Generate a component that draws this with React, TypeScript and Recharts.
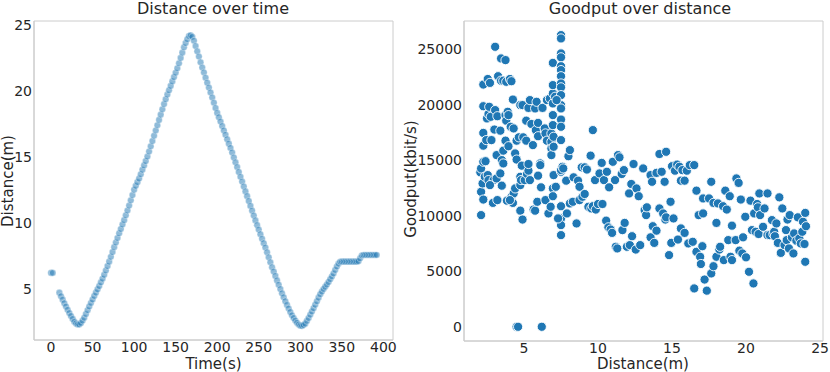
import React from 'react';
import { ScatterChart, Scatter, XAxis, YAxis, ReferenceArea } from 'recharts';

// ---- Left panel: Distance over time ----
const timeS = [
  0, 2,
  10, 12, 14, 16, 18, 20, 22, 24, 26, 28, 30, 32, 34, 36, 38, 40, 42, 44, 46, 48, 50, 52, 54, 56, 58, 60, 62, 64, 66, 68,
  70, 72, 74, 76, 78, 80, 82, 84, 86, 88, 90, 92, 94, 96, 98, 100, 102, 104, 106, 108, 110, 112, 114, 116, 118, 120,
  122, 124, 126, 128, 130, 132, 134, 136, 138, 140, 142, 144, 146, 148, 150, 152, 154, 156, 158, 160, 162, 164, 166,
  168, 170, 172, 174, 176, 178, 180, 182, 184, 186, 188, 190, 192, 194, 196, 198, 200, 202, 204, 206, 208, 210, 212,
  214, 216, 218, 220, 222, 224, 226, 228, 230, 232, 234, 236, 238, 240, 242, 244, 246, 248, 250, 252, 254, 256, 258,
  260, 262, 264, 266, 268, 270, 272, 274, 276, 278, 280, 282, 284, 286, 288, 290, 292, 294, 296, 298, 300, 302, 304,
  306, 308, 310, 312, 314, 316, 318, 320, 322, 324, 326, 328, 330, 332, 334, 336, 338, 340, 342, 344, 346, 348, 350,
  352, 354, 356, 358, 360, 362, 364, 366, 368, 370, 372, 374, 376, 378, 380, 382, 384, 386, 388, 390, 392,
];
const distanceM = [
  6.2, 6.2,
  4.7, 4.43, 4.17, 3.9, 3.65, 3.4, 3.15, 2.93, 2.71, 2.5, 2.37, 2.29, 2.28, 2.4, 2.58, 2.8, 3.08, 3.37, 3.65, 3.92,
  4.18, 4.45, 4.7, 4.95, 5.2, 5.48, 5.76, 6.05, 6.38, 6.72,
  7.05, 7.42, 7.78, 8.15, 8.5, 8.85, 9.2, 9.53, 9.87, 10.2, 10.57, 10.93, 11.3, 11.7, 12.1, 12.5, 12.8, 13.08, 13.35,
  13.68, 14.02, 14.35, 14.68, 15.02, 15.4, 15.8,
  16.2, 16.6, 17.0, 17.4, 17.8, 18.2, 18.6, 19.0, 19.37, 19.72, 20.05, 20.38, 20.72, 21.05, 21.38, 21.72, 22.1, 22.5,
  22.9, 23.3, 23.63, 23.92, 24.15,
  24.22, 24.1, 23.8, 23.4, 23.0, 22.6, 22.17, 21.77, 21.4, 21.0, 20.62, 20.25, 19.88, 19.5, 19.1, 18.7, 18.33, 18.0,
  17.67, 17.33, 17.0, 16.67, 16.33,
  16.0, 15.67, 15.33, 14.95, 14.58, 14.22, 13.85, 13.48, 13.12, 12.75, 12.38, 12.02, 11.65, 11.28, 10.92, 10.55,
  10.18, 9.82, 9.48, 9.13, 8.78, 8.45, 8.12,
  7.76, 7.38, 7.0, 6.63, 6.3, 5.97, 5.63, 5.3, 4.97, 4.65, 4.35, 4.05, 3.77, 3.5, 3.23, 2.98, 2.78, 2.59, 2.42, 2.28,
  2.2, 2.18, 2.25,
  2.35, 2.56, 2.78, 3.03, 3.27, 3.52, 3.78, 4.05, 4.32, 4.58, 4.78, 4.98, 5.14, 5.31, 5.5, 5.72, 5.93, 6.15, 6.42,
  6.68, 6.9, 7.04, 7.05,
  7.05, 7.05, 7.05, 7.05, 7.05, 7.05, 7.05, 7.05, 7.05, 7.08, 7.3, 7.52, 7.56, 7.56, 7.56, 7.56, 7.56, 7.56, 7.56,
  7.56, 7.56,
];
const timeTicks = [0, 50, 100, 150, 200, 250, 300, 350, 400];
const distanceTicks = [5, 10, 15, 20, 25];

// ---- Right panel: Goodput over distance ----
const goodputDistanceM = [
  2.1, 2.1, 2.05, 2.1, 2.2, 2.25, 2.25, 2.25, 2.25, 2.25, 2.25, 2.35, 2.4, 2.45, 2.5, 2.6, 2.55, 2.7, 2.55, 2.6,
  2.65, 2.75, 2.8, 2.95, 3.0, 3.05, 2.7, 2.9,
  3.05, 3.15, 3.15, 3.2, 3.2, 3.25, 3.4, 3.4, 3.5, 3.5, 3.45, 3.45, 3.6, 3.75, 3.8, 3.75, 3.8, 3.75, 3.6, 3.6,
  3.9, 3.95, 3.85, 3.95,
  4.05, 4.15, 4.1, 4.15, 4.25, 4.3, 4.05, 4.25, 4.3, 4.4, 4.5, 4.4, 4.5, 4.65, 4.5, 4.6, 4.75, 4.9, 4.75, 4.75,
  4.75, 4.85, 4.8, 4.95, 4.9,
  5.15, 5.05, 5.2, 5.3, 5.4, 5.3, 5.15, 5.3, 5.4, 5.5, 5.6, 5.65, 5.75, 5.75, 5.8, 5.85, 5.9, 5.95, 5.95, 5.95,
  6.1, 6.1, 6.15, 6.2, 6.25,
  6.4, 6.45, 6.55, 6.55, 6.45, 6.65, 6.75, 6.8, 6.85, 6.85, 6.85, 6.85, 6.95, 6.95, 6.95, 6.95, 6.95, 6.95, 6.95,
  6.95, 7.0, 7.0, 7.0, 7.1, 7.15,
  7.5, 7.5, 7.5, 7.5, 7.5, 7.5, 7.5, 7.5, 7.5, 7.5, 7.5, 7.5, 7.5, 7.5, 7.5, 7.5, 7.5, 7.5, 7.5, 7.5, 7.5,
  7.2, 7.3, 7.6, 7.65,
  7.85, 7.9, 8.0, 8.1, 8.1, 8.3, 8.35, 8.55, 8.65, 8.75, 8.75, 8.9, 8.95, 9.1, 9.1, 9.25, 9.35, 9.5, 9.55, 9.65,
  9.65, 9.8, 9.85,
  10.0, 10.1, 10.25, 10.3, 10.4, 10.55, 10.6, 10.7, 10.75, 10.85, 10.95, 11.0, 11.15, 11.2, 11.3, 11.35, 11.45,
  11.6, 11.65, 11.75, 11.8, 11.95, 12.1, 12.15, 12.25, 12.3, 12.4, 12.55, 12.6, 12.75, 12.85,
  13.05, 13.15, 13.25, 13.3, 13.55, 13.55, 13.65, 13.7, 13.8, 13.95, 13.95, 14.15, 14.15, 14.3, 14.4, 14.5, 14.55,
  14.6, 14.6, 14.8, 14.9, 14.95,
  15.0, 15.1, 15.2, 15.35, 15.4, 15.5, 15.6, 15.6, 15.7, 15.85, 15.85, 16.0, 16.1, 16.2, 16.4, 16.5, 16.5, 16.65,
  16.65, 16.8, 16.9, 16.95, 17.05, 17.1, 17.1, 17.2, 17.35, 17.5,
  17.65, 17.65, 17.8, 17.8, 18.0, 18.0, 18.1, 18.2, 18.25, 18.45, 18.5, 18.6, 18.7, 18.8, 18.9, 18.95, 19.05,
  19.05, 19.3, 19.35, 19.5, 19.55, 19.65, 19.75, 19.8, 19.95, 20.0,
  20.2, 20.3, 20.4, 20.5, 20.55, 20.65, 20.75, 20.8, 20.85, 20.9, 20.95, 21.15, 21.25, 21.45, 21.45, 21.6, 21.75,
  21.85, 21.9, 21.95, 22.05, 22.15, 22.25, 22.35, 22.45,
  22.6, 22.7, 22.75, 22.8, 22.9, 22.95, 23.1, 23.2, 23.25, 23.4, 23.5, 23.6, 23.7, 23.8, 23.85, 23.95, 24.0, 24.0,
  24.05,
];
const goodputKbit = [
  10050, 12150, 13900, 14250, 12900, 11450, 14850, 16300, 17450, 19850, 21800, 13500, 14900, 16800, 18750, 19150,
  22300, 21950, 13650, 13200, 19800, 18900, 16800, 13200, 17750, 19500, 12750, 11150,
  25200, 13350, 15450, 18950, 11400, 22550, 17650, 13800, 15000, 12700, 22150, 24150, 22150, 24000, 22050, 19050,
  18550, 16750, 15850, 14700, 19350, 16250, 11350, 19050,
  22300, 22100, 18000, 11700, 11150, 12000, 11400, 20450, 17850, 15600, 15050, 12450, 16750, 17050, 0, 0, 10450,
  9650, 19950, 13500, 12750, 14500, 13200, 17050, 19950,
  16750, 13200, 13750, 14050, 13200, 14650, 18550, 19700, 20400, 18250, 16350, 10550, 10450, 19650, 17700, 20250,
  11250, 13600, 17150, 18350, 14700, 14550, 12550, 0, 19700,
  17850, 17400, 16750, 20400, 11400, 10200, 20550, 10800, 17400, 16650, 16050, 15450, 18150, 19050, 20100, 21000,
  21750, 23750, 12450, 11750, 17100, 16200, 13650, 20700, 12600,
  26250, 25950, 24600, 24250, 23450, 23100, 22550, 21900, 21550, 20850, 19950, 19650, 18650, 18000, 16800, 13950,
  14100, 10850, 9750, 9150, 8250,
  20400, 9750, 14400, 14250,
  13150, 10200, 15350, 15900, 11100, 11250, 13450, 9300, 13150, 12600, 11400, 14350, 11700, 11950, 14350, 14150,
  10800, 15400, 10650, 17700, 10850, 13200, 10550,
  11050, 13800, 14750, 11050, 13200, 9550, 13950, 8950, 12550, 8750, 8450, 14850, 13200, 7200, 7050, 15450, 15250,
  13750, 8700, 14100, 9350, 7200, 12000, 7350, 12850, 8150, 14650, 6950, 12450, 11750, 7350,
  14250, 10500, 10050, 10750, 13650, 8050, 13050, 9050, 7550, 13850, 8650, 10650, 15550, 13950, 10200, 13050, 9650,
  9850, 15750, 6450, 11250, 7550,
  14450, 9750, 14050, 14600, 7850, 14400, 13150, 8850, 14100, 13150, 8450, 14050, 7500, 14550, 7650, 14550, 3450,
  12250, 6750, 10050, 6300, 5650, 7250, 11550, 10200, 4250, 3250, 11550,
  13050, 4800, 11150, 5450, 9350, 6300, 11100, 6950, 7200, 10850, 6000, 12250, 10550, 7800, 11750, 6300, 6000, 9100,
  7800, 13350, 12950, 6850, 11450, 6600, 8050, 9900, 6250,
  4950, 11350, 8700, 3900, 10200, 8550, 11050, 10750, 8350, 12000, 10050, 9000, 10650, 12000, 8250, 8250, 9600, 8350,
  8550, 8150, 9300, 7550, 11650, 6650, 10650,
  7350, 8700, 7800, 9650, 7050, 10050, 8050, 6600, 8400, 7750, 9850, 7950, 7500, 8550, 9450, 7450, 10250, 5850, 9050,
];
const goodputDistanceTicks = [5, 10, 15, 20, 25];
const goodputTicks = [0, 5000, 10000, 15000, 20000, 25000];

const FONT = 'DejaVu Sans, sans-serif';
const TEXT = '#262626';
const SPINE = '#cccccc';
const BLUE = '#1f77b4';

const leftData = timeS.map((t, i) => ({ t, d: distanceM[i] }));
const rightData = goodputDistanceM.map((x, i) => ({ x, g: goodputKbit[i] }));

const tickStyle = { fill: TEXT, fontSize: 14, fontFamily: FONT };

const smallDot = (p: any) => (
  <circle cx={p.cx} cy={p.cy} r={3.3} fill={BLUE} fillOpacity={0.5} stroke="#ffffff" strokeOpacity={0.5} strokeWidth={0.7} />
);
const bigDot = (p: any) => (
  <circle cx={p.cx} cy={p.cy} r={4.6} fill={BLUE} stroke="#ffffff" strokeWidth={0.9} />
);

const vLabel = (text: string, x: number, y: number) => () => (
  <text x={x} y={y} transform={`rotate(-90 ${x} ${y})`} textAnchor="middle" dominantBaseline="central"
    fontSize={15} fill={TEXT} fontFamily={FONT}>{text}</text>
);
const hLabel = (text: string, x: number, y: number) => () => (
  <text x={x} y={y} textAnchor="middle" dominantBaseline="central" fontSize={15} fill={TEXT} fontFamily={FONT}>{text}</text>
);

const LX: [number, number] = [-20.5, 411.6];
const LY: [number, number] = [1.11, 25.3];
const RX: [number, number] = [0.946, 25.2];
const RY: [number, number] = [-1280, 27520];

export default function App() {
  return (
    <div style={{ position: 'absolute', left: 0, top: 0, width: 830, height: 372, background: '#fff', fontFamily: FONT }}>
      <div style={{ position: 'absolute', left: 0, top: 0 }}>
        <ScatterChart width={400} height={372} margin={{ top: 21, right: 7, bottom: 2, left: 4 }}>
          <XAxis dataKey="t" type="number" domain={LX} ticks={timeTicks} allowDataOverflow
            tickLine={false} axisLine={{ stroke: SPINE }} tick={tickStyle} height={30} tickSize={0} tickMargin={2}
            label={{ content: hLabel('Time(s)', 213.5, 364) }} />
          <YAxis dataKey="d" type="number" domain={LY} ticks={distanceTicks} allowDataOverflow
            tickLine={false} axisLine={{ stroke: SPINE }} tick={tickStyle} width={30} tickSize={0} tickMargin={2}
            label={{ content: vLabel('Distance(m)', 7.5, 181) }} />
          <ReferenceArea x1={LX[0]} x2={LX[1]} y1={LY[0]} y2={LY[1]} fill="none" stroke={SPINE} ifOverflow="visible" />
          <Scatter data={leftData} shape={smallDot} isAnimationActive={false} />
        </ScatterChart>
      </div>
      <div style={{ position: 'absolute', left: 400, top: 0 }}>
        <ScatterChart width={430} height={372} margin={{ top: 21, right: 7, bottom: 1, left: 4 }}>
          <XAxis dataKey="x" type="number" domain={RX} ticks={goodputDistanceTicks} allowDataOverflow
            tickLine={false} axisLine={{ stroke: SPINE }} tick={tickStyle} height={30} tickSize={0} tickMargin={2}
            label={{ content: hLabel('Distance(m)', 243, 363.5) }} />
          <YAxis dataKey="g" type="number" domain={RY} ticks={goodputTicks} allowDataOverflow
            tickLine={false} axisLine={{ stroke: SPINE }} tick={tickStyle} width={60} tickSize={0} tickMargin={2}
            label={{ content: vLabel('Goodput(kbit/s)', 10.5, 179) }} />
          <ReferenceArea x1={RX[0]} x2={RX[1]} y1={RY[0]} y2={RY[1]} fill="none" stroke={SPINE} ifOverflow="visible" />
          <Scatter data={rightData} shape={bigDot} isAnimationActive={false} />
        </ScatterChart>
      </div>
      <svg width={830} height={372} style={{ position: 'absolute', left: 0, top: 0, pointerEvents: 'none' }}>
        <text x={213} y={14} textAnchor="middle" fontSize={16} fill={TEXT} fontFamily={FONT}>Distance over time</text>
        <text x={640} y={14} textAnchor="middle" fontSize={16} fill={TEXT} fontFamily={FONT}>Goodput over distance</text>
      </svg>
    </div>
  );
}
